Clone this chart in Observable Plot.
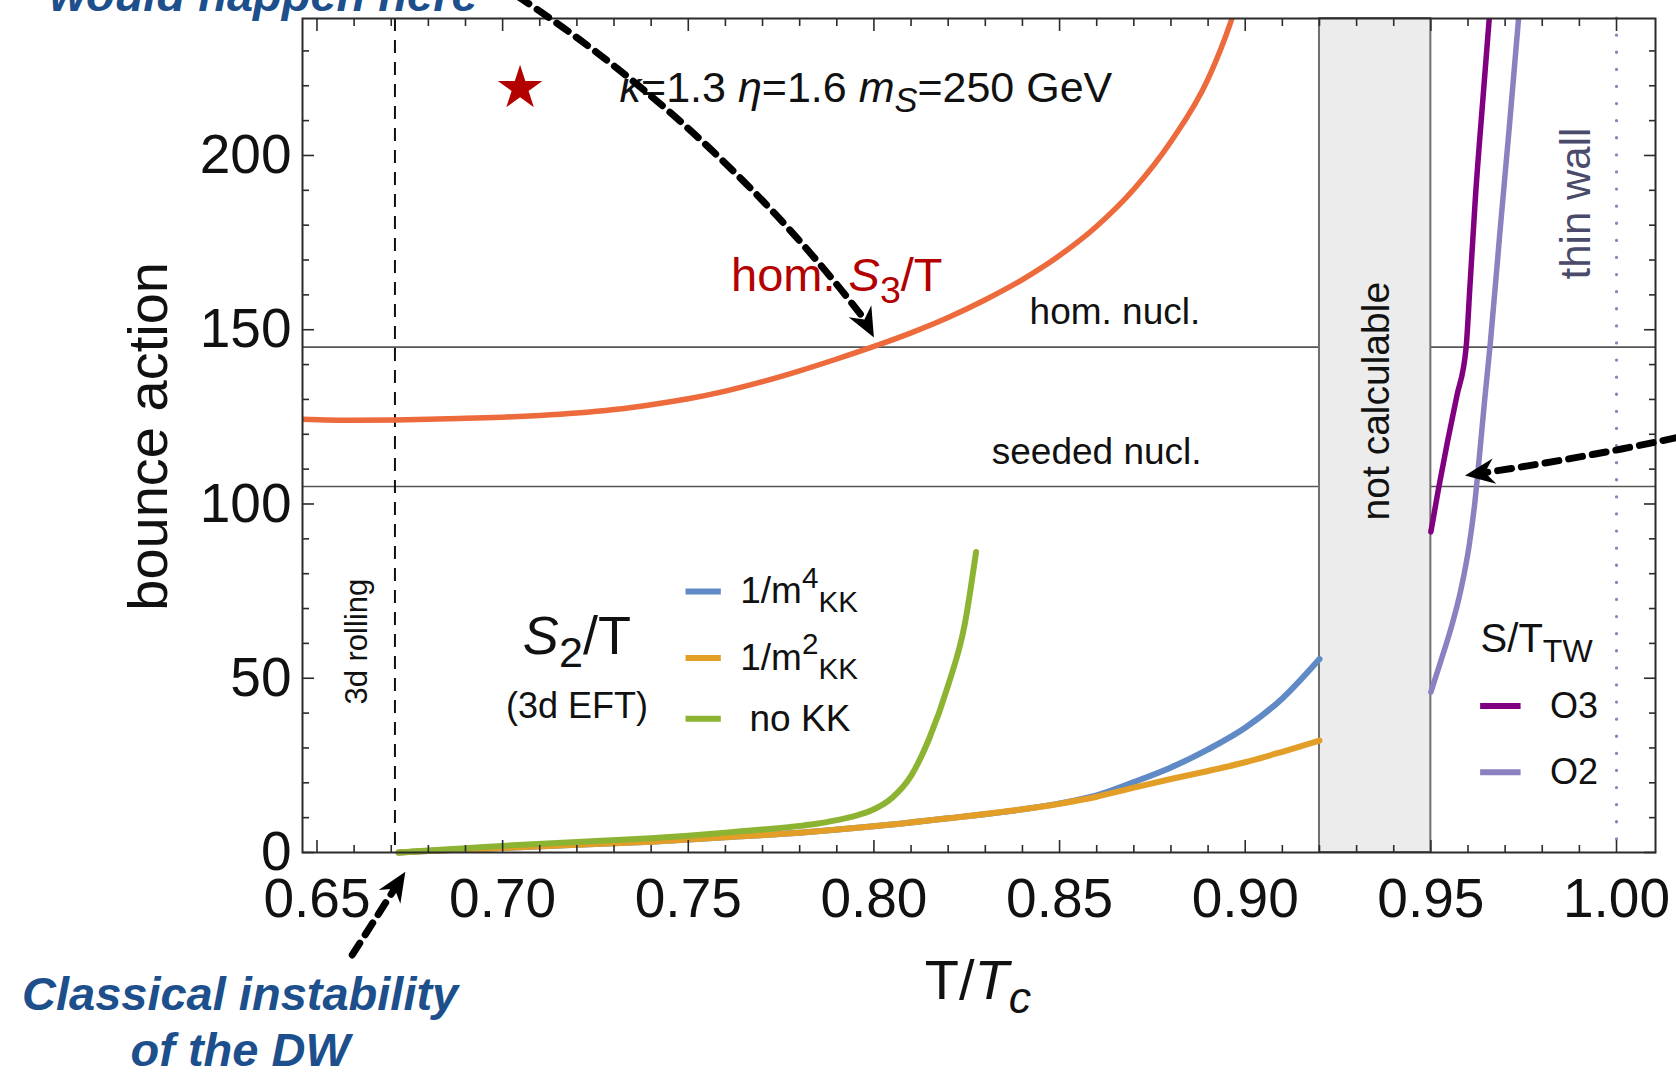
<!DOCTYPE html>
<html><head><meta charset="utf-8">
<script src="https://cdn.jsdelivr.net/npm/d3@7"></script>
<script src="https://cdn.jsdelivr.net/npm/@observablehq/plot@0.6"></script>
<style>
html,body{margin:0;padding:0;background:#fff;overflow:hidden;}
#chart svg{display:block;overflow:hidden;}
</style></head><body><div id="chart"></div>
<script>
// ---------- data ----------
const homT = [0.646, 0.66, 0.671, 0.68, 0.69, 0.70, 0.71, 0.72, 0.73, 0.74, 0.75, 0.76, 0.77, 0.78, 0.79, 0.80, 0.81, 0.82, 0.83, 0.84, 0.85, 0.86, 0.87, 0.88, 0.89, 0.896, 0.899];
const homS = [124.3, 124.0, 124.1, 124.3, 124.6, 124.9, 125.4, 126.1, 127.1, 128.5, 130.2, 132.4, 135.1, 138.2, 141.6, 145.2, 149.1, 153.5, 158.6, 164.4, 171.3, 179.7, 190.3, 204.0, 222.0, 238.0, 248];

const kkT  = [0.672, 0.68, 0.69, 0.70, 0.72, 0.74, 0.76, 0.78, 0.80, 0.82, 0.84, 0.85, 0.86, 0.87, 0.88, 0.89, 0.90, 0.91, 0.92];
const m4S  = [0, 0.4, 0.85, 1.3, 2.2, 3.1, 4.4, 5.7, 7.5, 9.8, 12.4, 14.1, 16.4, 20.2, 24.4, 29.6, 35.8, 44.2, 55.5];
const m2S  = [0, 0.4, 0.85, 1.3, 2.2, 3.1, 4.4, 5.7, 7.5, 9.8, 12.4, 14.0, 16.0, 18.6, 21.1, 23.4, 25.9, 28.9, 32.1];

const noKKT = [0.672, 0.68, 0.69, 0.70, 0.72, 0.74, 0.75, 0.76, 0.77, 0.78, 0.785, 0.79, 0.795, 0.80, 0.805, 0.81, 0.815, 0.82, 0.8245, 0.8275];
const noKKS = [0, 0.6, 1.2, 1.9, 3.0, 4.1, 4.8, 5.7, 6.6, 7.6, 8.3, 9.3, 10.5, 12.4, 15.8, 22.0, 33.0, 48.0, 65.7, 86.2];

const o3T = [0.950, 0.952, 0.9545, 0.957, 0.9595, 0.9605, 0.962, 0.964, 0.9657, 0.9665];
const o3S = [92, 104, 118, 131, 145, 162, 188, 216, 239, 250];
const o2T = [0.950, 0.9527, 0.9556, 0.9580, 0.9603, 0.9618, 0.9631, 0.9645, 0.9660, 0.9686, 0.9712, 0.9736, 0.9746];
const o2S = [46, 55, 65, 75, 88, 100, 114, 130, 146, 178, 209, 239, 252];

const notCalcBand = [0.92, 0.95];
const rollingT = [0.671];
const thinWallT = [1.0];
const nuclLevels = [105, 145];
const starPoint = [{T: 0.7047, S: 219.3}];

const xMajor = [0.65, 0.70, 0.75, 0.80, 0.85, 0.90, 0.95, 1.00];
const xMinor = d3.range(65, 101).map(v => v / 100).filter(v => Math.round(v * 100) % 5 !== 0);
const yMajor = [0, 50, 100, 150, 200];
const yMinor = d3.range(10, 240, 10).filter(v => v % 50 !== 0);

const s2Names = ["1/m^{4}_{KK}", "1/m^{2}_{KK}", "no KK"];
const s2LegendS = [74.9, 55.8, 38.4];
const twNames = ["O3", "O2"];
const twLegendS = [42, 23];

// arrows: [x1, y1, x2 (shaft end), y2, tipX, tipY, headingDeg]
const arrowTop = [0.6985, 249.5, 0.7975, 152.9, 0.8000, 147.8, 62];
const arrowBottom = [0.6595, -29.4, 0.6709, -10.4, 0.6738, -5.5, -57.8];
const arrowRight = [1.0225, 120.5, 0.9645, 109.0, 0.9592, 108.2, 171.7];

// ---------- styles ----------
const C = {hom: "#ec6a3b", m4: "#5f8ac6", m2: "#e39e27", noKK: "#8db333", o3: "#800080", o2: "#8b80c0", red: "#b30000", blue: "#1c4f8b", slate: "#4a4a6a", ink: "#111"};
const FONT = "'Liberation Sans', Arial, Helvetica, sans-serif";

const rows = (xs, ys) => xs.map((T, i) => ({T, S: ys[i]}));
const note = (text, T, S, o = {}) => Plot.text([{T, S, text}], {x: "T", y: "S", text: "text", fill: C.ink, fontSize: 37, lineAnchor: "middle", ...o});

function arrowHead(headingDeg) {
  const a = (headingDeg + 90) * Math.PI / 180, c = Math.cos(a), s = Math.sin(a);
  const P = (x, y) => [x * c - y * s, x * s + y * c];
  return {draw(ctx, size) {
    const r = Math.sqrt(size / Math.PI), L = 2.2 * r, w = 0.95 * r;
    const pts = [P(0, 0), P(-w, L), P(0, 0.68 * L), P(w, L)];
    ctx.moveTo(...pts[0]); for (let i = 1; i < pts.length; i++) ctx.lineTo(...pts[i]); ctx.closePath();
  }};
}
function arrowMarks(a, bend) {
  return [
    Plot.arrow([a], {x1: d => d[0], y1: d => d[1], x2: d => d[2], y2: d => d[3], bend, headLength: 0, stroke: "#000", strokeWidth: 7, strokeDasharray: "14,10"}),
    Plot.dot([a], {x: d => d[4], y: d => d[5], symbol: arrowHead(a[6]), r: 13.5, fill: "#000", stroke: "none"})
  ];
}

const tickStyle = {tickFormat: () => "", label: null, stroke: "#2b2b2b", strokeWidth: 1.6};

const plot = Plot.plot({
  width: 1676, height: 1073,
  marginLeft: 302, marginRight: 21, marginTop: 18, marginBottom: 221,
  x: {domain: [0.6461, 1.0105]},
  y: {domain: [0, 239.3]},
  style: {fontFamily: FONT, background: "white", overflow: "hidden"},
  marks: [
    Plot.ruleY(nuclLevels, {stroke: "#555", strokeWidth: 1.6}),
    Plot.rect([notCalcBand], {x1: d => d[0], x2: d => d[1], fill: "#ececec", stroke: "#6f6f6f", strokeWidth: 2}),
    Plot.ruleX(rollingT, {stroke: "#111", strokeWidth: 2, strokeDasharray: "13,9"}),
    Plot.ruleX(thinWallT, {stroke: C.o2, strokeWidth: 3.2, strokeDasharray: "0.1,17", strokeLinecap: "round"}),

    Plot.line(rows(homT, homS), {x: "T", y: "S", stroke: C.hom, strokeWidth: 5.5, curve: "monotone-x", clip: true}),
    Plot.line(rows(kkT, m4S), {x: "T", y: "S", stroke: C.m4, strokeWidth: 6, curve: "monotone-x"}),
    Plot.line(rows(kkT, m2S), {x: "T", y: "S", stroke: C.m2, strokeWidth: 6, curve: "monotone-x"}),
    Plot.line(rows(noKKT, noKKS), {x: "T", y: "S", stroke: C.noKK, strokeWidth: 6, curve: "monotone-x"}),
    Plot.line(rows(o3T, o3S), {x: "T", y: "S", stroke: C.o3, strokeWidth: 5.5, curve: "monotone-x", clip: true}),
    Plot.line(rows(o2T, o2S), {x: "T", y: "S", stroke: C.o2, strokeWidth: 5.5, curve: "monotone-x", clip: true}),

    Plot.dot(starPoint, {x: "T", y: "S", symbol: "star", r: 14, fill: C.red, stroke: "none"}),

    // in-plot legends
    Plot.ruleY(s2LegendS.slice(0, 1), {x1: 0.7494, x2: 0.7589, stroke: C.m4, strokeWidth: 6}),
    Plot.ruleY(s2LegendS.slice(1, 2), {x1: 0.7494, x2: 0.7589, stroke: C.m2, strokeWidth: 6}),
    Plot.ruleY(s2LegendS.slice(2, 3), {x1: 0.7494, x2: 0.7589, stroke: C.noKK, strokeWidth: 6}),
    Plot.text(s2Names, {x: (d, i) => i === 2 ? 0.7665 : 0.764, y: (d, i) => s2LegendS[i], text: d => d, textAnchor: "start", fontSize: 37, fill: C.ink}),
    Plot.ruleY(twLegendS.slice(0, 1), {x1: 0.9634, x2: 0.9743, stroke: C.o3, strokeWidth: 6}),
    Plot.ruleY(twLegendS.slice(1, 2), {x1: 0.9634, x2: 0.9743, stroke: C.o2, strokeWidth: 6}),
    Plot.text(twNames, {x: 0.9821, y: (d, i) => twLegendS[i], text: d => d, textAnchor: "start", fontSize: 36, fill: C.ink}),
    note("S/T_{TW}", 0.9634, 61.1, {textAnchor: "start", fontSize: 40}),
    note("*S*_{2}/T", 0.72, 62, {fontSize: 54}),
    note("(3d EFT)", 0.72, 42, {fontSize: 36}),

    note("*κ*=1.3 *η*=1.6 *m*_{*S*}=250 GeV", 0.7315, 219.3, {textAnchor: "start", fontSize: 43}),
    note("hom. *S*_{3}/T", 0.79, 165.3, {fontSize: 47, fill: C.red}),
    note("hom. nucl.", 0.8649, 154.9, {fontSize: 37}),
    note("seeded nucl.", 0.86, 115, {fontSize: 37}),
    note("not calculable", 0.9354, 129.5, {fontSize: 39, rotate: -90}),
    note("thin wall", 0.9893, 186.2, {fontSize: 42, rotate: -90, fill: C.slate}),
    note("3d rolling", 0.6609, 60.5, {fontSize: 31, rotate: -90}),

    // frame and inward ticks
    Plot.frame({stroke: "#2b2b2b", strokeWidth: 2}),
    Plot.axisX({anchor: "bottom", ticks: xMajor, tickSize: 12, dy: -12, ...tickStyle}),
    Plot.axisX({anchor: "bottom", ticks: xMinor, tickSize: 7, dy: -7, ...tickStyle}),
    Plot.axisX({anchor: "top", ticks: xMajor, tickSize: 12, dy: 12, ...tickStyle}),
    Plot.axisX({anchor: "top", ticks: xMinor, tickSize: 7, dy: 7, ...tickStyle}),
    Plot.axisY({anchor: "left", ticks: yMajor, tickSize: 12, dx: 12, ...tickStyle}),
    Plot.axisY({anchor: "left", ticks: yMinor, tickSize: 7, dx: 7, ...tickStyle}),
    Plot.axisY({anchor: "right", ticks: yMajor, tickSize: 12, dx: -12, ...tickStyle}),
    Plot.axisY({anchor: "right", ticks: yMinor, tickSize: 7, dx: -7, ...tickStyle}),
    // tick labels
    Plot.axisX({anchor: "bottom", ticks: xMajor, tickSize: 0, tickPadding: 25, tickFormat: d3.format(".2f"), fontSize: 55, label: null, fill: C.ink}),
    Plot.axisY({anchor: "left", ticks: yMajor, tickSize: 0, tickPadding: 11, fontSize: 55, label: null, fill: C.ink}),
    // axis titles
    note("T/*T*_{*c*}", 0.828, -37, {fontSize: 56}),
    note("bounce action", 0.6048, 119.4, {fontSize: 56, rotate: -90}),

    // annotations outside the frame
    note("would happen here", 0.6356, 245.9, {fontSize: 47, fontWeight: "bold", fontStyle: "italic", fill: C.blue}),
    note("Classical instability", 0.6293, -41, {fontSize: 47, fontWeight: "bold", fontStyle: "italic", fill: C.blue}),
    note("of the DW", 0.6293, -57.0, {fontSize: 47, fontWeight: "bold", fontStyle: "italic", fill: C.blue}),
    ...arrowMarks(arrowTop, 10),
    ...arrowMarks(arrowBottom, 0),
    ...arrowMarks(arrowRight, 2)
  ]
});

document.getElementById("chart").appendChild(plot);

// rich text: *italic*, _{sub}, ^{sup}
function parseRich(s) {
  const out = []; let i = 0, italic = false, buf = "";
  const flush = () => { if (buf) { out.push({t: buf, italic, mode: "n"}); buf = ""; } };
  while (i < s.length) {
    const c = s[i];
    if (c === "*") { flush(); italic = !italic; i++; continue; }
    if ((c === "_" || c === "^") && s[i + 1] === "{") {
      flush();
      const mode = c === "_" ? "sub" : "sup";
      const j = s.indexOf("}", i);
      let it = italic, b = "";
      for (const ch of s.slice(i + 2, j)) {
        if (ch === "*") { if (b) { out.push({t: b, italic: it, mode}); b = ""; } it = !it; }
        else b += ch;
      }
      if (b) out.push({t: b, italic: it, mode});
      i = j + 1; continue;
    }
    buf += c; i++;
  }
  flush();
  return out;
}
plot.querySelectorAll("text").forEach(el => {
  if (el.querySelector("tspan")) return;
  const s = el.textContent;
  if (!/\*|[_^]\{/.test(s)) return;
  const fs = parseFloat(getComputedStyle(el).fontSize) || 16;
  el.textContent = "";
  let shift = 0;
  for (const sg of parseRich(s)) {
    const t = document.createElementNS("http://www.w3.org/2000/svg", "tspan");
    t.textContent = sg.t;
    if (sg.italic) t.setAttribute("font-style", "italic");
    let target = 0, size = fs;
    if (sg.mode === "sub") { target = 0.24 * fs; size = 0.8 * fs; }
    if (sg.mode === "sup") { target = -0.42 * fs; size = 0.8 * fs; }
    t.setAttribute("font-size", size);
    if (target !== shift) t.setAttribute("dy", target - shift);
    shift = target;
    el.appendChild(t);
  }
});
</script></body></html>
